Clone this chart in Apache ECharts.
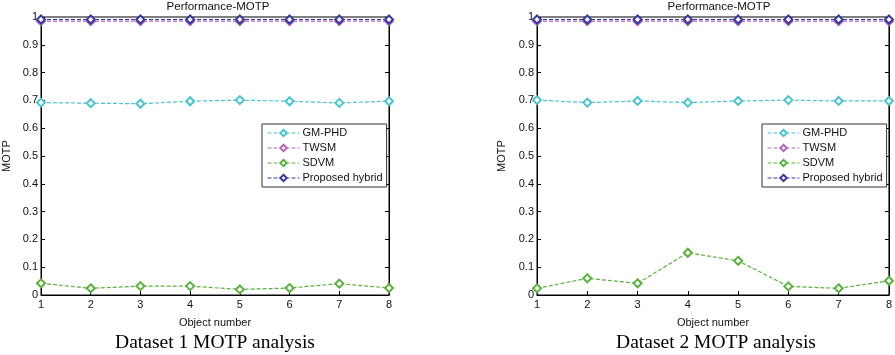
<!DOCTYPE html>
<html><head><meta charset="utf-8">
<script src="https://cdn.jsdelivr.net/npm/echarts@6/dist/echarts.min.js"></script>
<style>html,body{margin:0;padding:0;background:#fff}#c{width:895px;height:355px}</style>
</head><body><div id="c"></div>
<script>
const objects = [1,2,3,4,5,6,7,8];
const yTicks = ['0','0.1','0.2','0.3','0.4','0.5','0.6','0.7','0.8','0.9','1'];
const seriesNames = ['GM-PHD','TWSM','SDVM','Proposed hybrid'];
const seriesColors = ['#4cc3cc','#b066b8','#5cb040','#3a3a9a'];
// Dataset 1
const d1_gmphd = [0.692,0.690,0.688,0.697,0.701,0.697,0.691,0.697];
const d1_twsm = [0.985,0.985,0.985,0.985,0.985,0.985,0.985,0.985];
const d1_sdvm = [0.042,0.024,0.032,0.032,0.020,0.025,0.041,0.025];
const d1_hybrid = [0.991,0.991,0.991,0.991,0.991,0.991,0.991,0.991];
// Dataset 2
const d2_gmphd = [0.701,0.692,0.698,0.692,0.698,0.701,0.698,0.698];
const d2_twsm = [0.985,0.985,0.985,0.985,0.985,0.985,0.985,0.985];
const d2_sdvm = [0.024,0.060,0.042,0.152,0.123,0.031,0.024,0.051];
const d2_hybrid = [0.991,0.991,0.991,0.991,0.991,0.991,0.991,0.991];
const captions = ['Dataset 1 MOTP analysis','Dataset 2 MOTP analysis'];
const chartTitle = 'Performance-MOTP';

const FONT = 'Liberation Sans, Arial, sans-serif';
const grids = [
  {left:37, top:17, width:352, height:278},
  {left:537, top:17, width:354, height:278}
];
const legendLeft = [262, 762];
const sets = [[d1_gmphd,d1_twsm,d1_sdvm,d1_hybrid],[d2_gmphd,d2_twsm,d2_sdvm,d2_hybrid]];

const option = {
  animation:false,
  backgroundColor:'#fff',
  textStyle:{fontFamily:FONT},
  title: grids.map(g=>({text:chartTitle,left:g.left+g.width/2,textAlign:'center',top:-4,
    textStyle:{fontFamily:FONT,fontSize:11.5,fontWeight:'normal',color:'#111'}})),
  grid: grids.map(g=>Object.assign({show:true,borderColor:'#000',borderWidth:1,backgroundColor:'transparent'},g)),
  xAxis: grids.map((g,i)=>({type:'value',gridIndex:i,min:1,max:8,interval:1,
    name:'Object number',nameLocation:'middle',nameGap:22,
    nameTextStyle:{fontFamily:FONT,fontSize:11,color:'#111'},
    axisLine:{lineStyle:{color:'#000',width:1}},
    axisTick:{inside:true,length:4,lineStyle:{color:'#000'}},
    axisLabel:{fontFamily:FONT,fontSize:11,color:'#111',margin:4},
    splitLine:{show:false}})),
  yAxis: [].concat(...grids.map((g,i)=>[
    {type:'value',gridIndex:i,min:0,max:1,interval:0.1,
     name:'MOTP',nameLocation:'middle',nameGap:i===0?29:30,
     nameTextStyle:{fontFamily:FONT,fontSize:11,color:'#111'},
     axisLine:{lineStyle:{color:'#000',width:1}},
     axisTick:{inside:true,length:4,lineStyle:{color:'#000'}},
     axisLabel:{fontFamily:FONT,fontSize:11,color:'#111',margin:3,
       formatter:v=>yTicks[Math.round(v*10)]},
     splitLine:{show:false}},
    {type:'value',gridIndex:i,min:0,max:1,interval:0.1,position:'right',
     axisLine:{show:true,lineStyle:{color:'#000',width:1}},
     axisTick:{inside:true,length:4,lineStyle:{color:'#000'}},
     axisLabel:{show:false},splitLine:{show:false}}
  ])),
  legend: grids.map((g,i)=>({
    data:seriesNames, orient:'vertical',
    left:legendLeft[i], top:124,
    backgroundColor:'#fff', borderColor:'#333', borderWidth:1,
    padding:[3,4,3,5], itemGap:3, itemWidth:32, itemHeight:8,
    selectedMode:false,
    lineStyle:{type:[4,2],width:1},
    itemStyle:{borderWidth:1.2},
    textStyle:{fontFamily:FONT,fontSize:11,lineHeight:12,color:'#111',padding:[0,0,0,-2]}
  })),
  series: [],
  graphic: grids.map((g,i)=>({type:'text',x:g.left+g.width/2 + 2,y:343,
    style:{text:captions[i],font:'19.5px "Liberation Serif", "Times New Roman", serif',fill:'#000',
      textAlign:'center',textVerticalAlign:'middle'}}))
};

sets.forEach((arrs,gi)=>{
  arrs.forEach((vals,si)=>{
    option.series.push({
      name:seriesNames[si], type:'line', xAxisIndex:gi, yAxisIndex:gi*2,
      data:objects.map((x,k)=>[x,vals[k]]),
      symbol:'emptyDiamond', symbolSize:8, showSymbol:true,
      itemStyle:{color:seriesColors[si],borderWidth:1.3},
      lineStyle:{color:seriesColors[si],width:1.2,type:[4,2]},
      z: si===3?5:3
    });
  });
});

echarts.init(document.getElementById('c'),null,{renderer:'canvas'}).setOption(option);
</script></body></html>
